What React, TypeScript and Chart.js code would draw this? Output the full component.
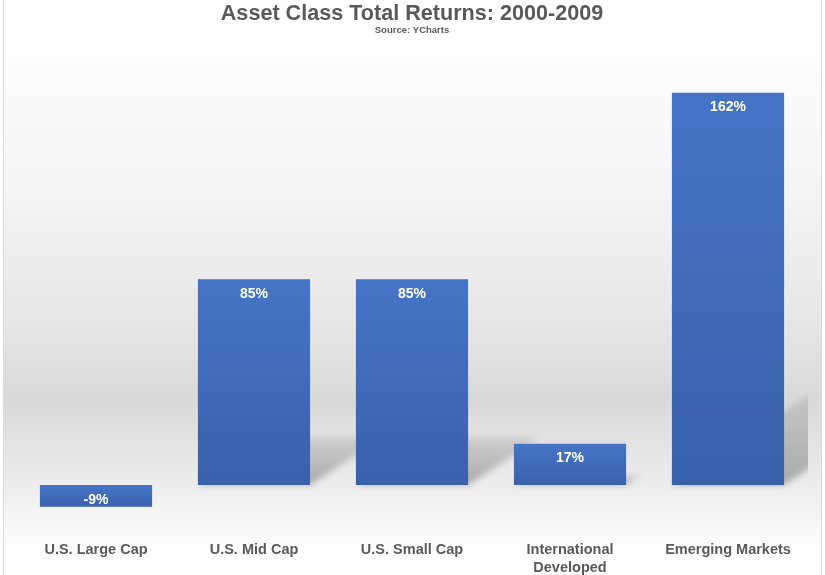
import React, { useEffect, useRef } from "react";
import { Chart, registerables } from "chart.js";

Chart.register(...registerables);

// Asset classes and their cumulative total return (%) over 2000-2009
const categories: (string | string[])[] = [
  "U.S. Large Cap",
  "U.S. Mid Cap",
  "U.S. Small Cap",
  ["International", "Developed"],
  "Emerging Markets",
];
const totalReturns = [-9, 85, 85, 17, 162];

const titleText = "Asset Class Total Returns: 2000-2009";
const subtitleText = "Source: YCharts";

const FONT = "'Liberation Sans', Arial, Helvetica, sans-serif";
const TEXT_GRAY = "#595959";

// Soft grey wall behind the columns
const wallBackground = {
  id: "wallBackground",
  beforeDraw(chart: any) {
    const { ctx, chartArea, width, height } = chart;
    if (!chartArea) return;
    ctx.save();
    ctx.fillStyle = "#ffffff";
    ctx.fillRect(0, 0, width, height);
    const top = chartArea.top;
    const bottom = chartArea.bottom + 15;
    const g = ctx.createLinearGradient(0, top, 0, bottom);
    g.addColorStop(0, "#fdfdfd");
    g.addColorStop(0.3, "#f3f3f3");
    g.addColorStop(0.55, "#e6e6e6");
    g.addColorStop(0.7, "#d9d9d9");
    g.addColorStop(0.82, "#e6e6e6");
    g.addColorStop(0.92, "#f2f2f2");
    g.addColorStop(1, "#fcfcfc");
    ctx.fillStyle = g;
    ctx.fillRect(4, top, 817, bottom - top);
    ctx.strokeStyle = "#d9d9d9";
    ctx.lineWidth = 1;
    ctx.beginPath();
    ctx.moveTo(3.5, 0);
    ctx.lineTo(3.5, height);
    ctx.moveTo(821.5, 0);
    ctx.lineTo(821.5, height);
    ctx.stroke();
    ctx.restore();
  },
};

// Slanted drop shadows cast by each column onto the wall
const barShadow = {
  id: "barShadow",
  beforeDatasetsDraw(chart: any) {
    const { ctx, chartArea } = chart;
    const meta = chart.getDatasetMeta(0);
    ctx.save();
    ctx.beginPath();
    ctx.rect(chartArea.left, chartArea.top, chartArea.right - chartArea.left + 1, chartArea.bottom - chartArea.top);
    ctx.clip();
    ctx.filter = "blur(3px)";
    meta.data.forEach((el: any) => {
      const { x, y, base, width } = el.getProps(["x", "y", "base", "width"], true);
      const h = base - y;
      if (h <= 0) return;
      const xl = x - width / 2;
      const xr = x + width / 2;
      const dx = h * 0.35;
      const dy = h * 0.23;
      const g = ctx.createLinearGradient(0, base, 0, base - dy);
      g.addColorStop(0, "rgba(0,0,0,0.28)");
      g.addColorStop(1, "rgba(0,0,0,0.09)");
      ctx.fillStyle = g;
      ctx.beginPath();
      ctx.moveTo(xl, base);
      ctx.lineTo(xr, base);
      ctx.lineTo(xr + dx, base - dy);
      ctx.lineTo(xl + dx, base - dy);
      ctx.closePath();
      ctx.fill();
    });
    ctx.restore();
  },
};

// White percentage labels inside the end of each column
const valueLabels = {
  id: "valueLabels",
  afterDatasetsDraw(chart: any) {
    const { ctx } = chart;
    const meta = chart.getDatasetMeta(0);
    ctx.save();
    ctx.fillStyle = "#ffffff";
    ctx.font = `bold 14px ${FONT}`;
    ctx.textAlign = "center";
    ctx.textBaseline = "middle";
    meta.data.forEach((el: any, i: number) => {
      const v = totalReturns[i];
      const { x, y } = el.getProps(["x", "y"], true);
      const ly = v >= 0 ? y + 14.5 : y - 7;
      ctx.fillText(`${v}%`, x, ly);
    });
    ctx.restore();
  },
};

function barFill(ctx: any) {
  const chart = ctx.chart;
  const yScale = chart.scales && chart.scales.y;
  if (!yScale || ctx.type !== "data") return "#3f6bbb";
  const v = ctx.raw as number;
  const p0 = yScale.getPixelForValue(0);
  const p1 = yScale.getPixelForValue(v);
  const top = Math.min(p0, p1);
  const bot = Math.max(p0, p1);
  if (!isFinite(top) || !isFinite(bot) || bot - top < 1) return "#3f6bbb";
  const g = chart.ctx.createLinearGradient(0, top, 0, bot);
  g.addColorStop(0, "#4574c6");
  g.addColorStop(1, "#3a61ab");
  return g;
}

export default function App() {
  const canvasRef = useRef<HTMLCanvasElement | null>(null);

  useEffect(() => {
    if (!canvasRef.current) return;
    const chart = new Chart(canvasRef.current, {
      type: "bar",
      data: {
        labels: categories as any,
        datasets: [
          {
            data: totalReturns,
            backgroundColor: barFill as any,
            borderWidth: 0,
            categoryPercentage: 1,
            barPercentage: 0.71,
          },
        ],
      },
      options: {
        responsive: false,
        animation: false,
        layout: { padding: { left: 17, right: 18, top: 0, bottom: 0 } },
        plugins: {
          legend: { display: false },
          tooltip: { enabled: false },
          title: {
            display: true,
            text: titleText,
            color: TEXT_GRAY,
            font: { family: FONT, size: 21.6, weight: "bold", lineHeight: 1 },
            padding: { top: 3, bottom: 0 },
          },
          subtitle: {
            display: true,
            text: subtitleText,
            color: TEXT_GRAY,
            font: { family: FONT, size: 9.5, weight: "bold", lineHeight: 1.2 },
            padding: { top: 0, bottom: 22 },
          },
        },
        scales: {
          x: {
            grid: { display: false, drawTicks: false },
            border: { display: false },
            ticks: {
              color: TEXT_GRAY,
              font: { family: FONT, size: 14.5, weight: "bold", lineHeight: 1.2 },
              padding: 11.6,
              maxRotation: 0,
              autoSkip: false,
            },
            afterFit(scale: any) {
              scale.height = 45.2;
            },
          },
          y: {
            display: false,
            min: -18.5,
            max: 176.4,
          },
        },
      },
      plugins: [wallBackground, barShadow, valueLabels],
    });
    return () => chart.destroy();
  }, []);

  return (
    <div style={{ position: "fixed", left: 0, top: 0, width: 825, height: 575, background: "#ffffff" }}>
      <canvas ref={canvasRef} width={825} height={575} style={{ display: "block" }} />
    </div>
  );
}
